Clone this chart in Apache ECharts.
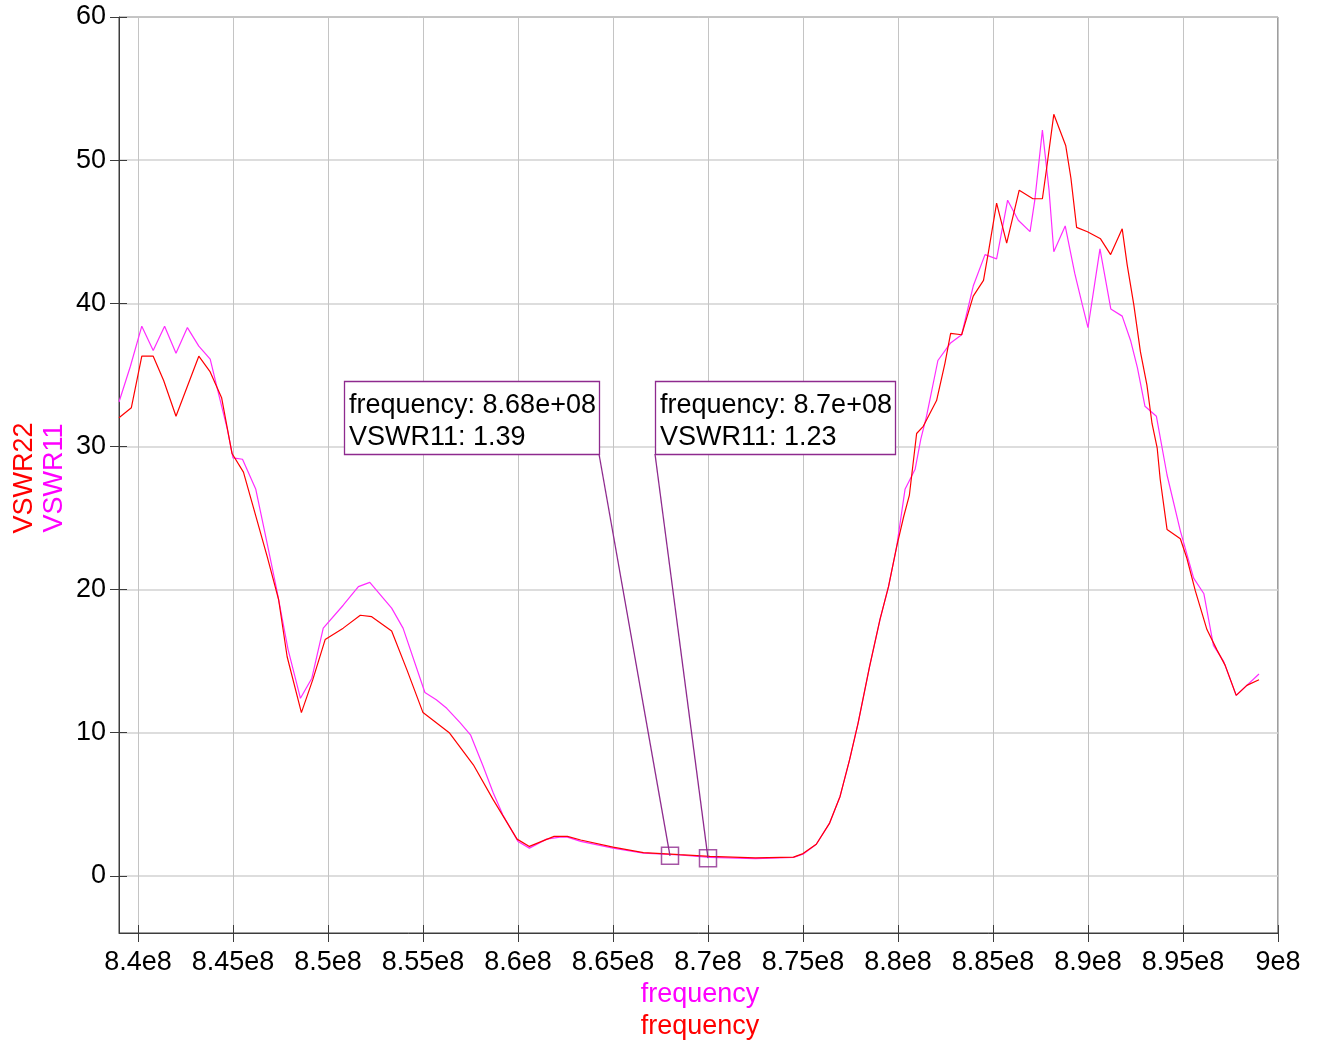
<!DOCTYPE html>
<html><head><meta charset="utf-8">
<script src="https://cdn.jsdelivr.net/npm/echarts@6/dist/echarts.min.js"></script>
<style>html,body{margin:0;padding:0;background:#fff}#c{width:1319px;height:1049px}</style>
</head><body><div id="c"></div>
<script>
// frequency in MHz (axis labels shown as x e8 Hz)
const xTicks = [840, 845, 850, 855, 860, 865, 870, 875, 880, 885, 890, 895, 900];
const yTicks = [0, 10, 20, 30, 40, 50, 60];

const f11 = [839.0, 839.6, 840.2, 840.8, 841.4, 842.0, 842.6, 843.2, 843.8, 844.2, 844.7, 845.0, 845.5, 846.2, 846.8, 847.3, 847.9, 848.55, 849.15, 849.75, 850.8, 851.6, 852.2, 853.35, 853.95, 855.1, 855.7, 856.25, 856.95, 857.5, 858.15, 858.7, 859.2, 859.75, 860.0, 860.6, 861.5, 862.2, 862.6, 863.3, 865.0, 866.6, 868.5, 870.1, 872.5, 874.5, 875.0, 875.7, 876.4, 876.95, 877.45, 877.9, 878.5, 879.05, 879.5, 879.93, 880.37, 880.9, 881.2, 881.5, 882.1, 882.75, 883.35, 883.96, 884.58, 885.19, 885.77, 886.33, 886.95, 887.2, 887.6, 887.95, 888.2, 888.8, 889.3, 889.7, 890.0, 890.63, 891.2, 891.8, 892.24, 892.6, 893.0, 893.6, 894.16, 894.86, 895.56, 896.1, 896.6, 897.13, 897.8, 899.0];
const v11 = [33.1, 35.6, 38.4, 36.7, 38.4, 36.5, 38.3, 37.0, 36.1, 33.9, 31.2, 29.2, 29.1, 27.0, 23.2, 20.0, 15.8, 12.4, 13.8, 17.3, 18.9, 20.2, 20.5, 18.7, 17.3, 12.8, 12.3, 11.7, 10.7, 9.85, 7.7, 5.78, 4.26, 2.98, 2.4, 1.93, 2.56, 2.7, 2.7, 2.4, 1.93, 1.58, 1.45, 1.28, 1.2, 1.28, 1.5, 2.2, 3.68, 5.54, 8.1, 10.67, 14.6, 17.9, 20.2, 23.0, 27.0, 28.4, 30.5, 32.1, 36.0, 37.2, 37.8, 41.2, 43.4, 43.1, 47.2, 45.8, 45.0, 47.2, 52.1, 47.9, 43.6, 45.4, 42.1, 39.9, 38.3, 43.8, 39.6, 39.1, 37.4, 35.5, 32.8, 32.1, 28.0, 24.1, 20.8, 19.7, 16.1, 15.0, 12.6, 14.1];

const f22 = [839.0, 839.65, 840.2, 840.8, 841.35, 842.0, 843.2, 843.8, 844.4, 844.95, 845.55, 846.25, 846.8, 847.4, 847.85, 848.6, 849.2, 849.85, 850.8, 851.7, 852.3, 853.35, 854.15, 855.0, 856.4, 857.65, 858.7, 859.95, 860.6, 861.9, 862.6, 863.3, 865.0, 866.6, 868.5, 870.1, 872.5, 874.5, 875.0, 875.7, 876.4, 876.95, 877.45, 877.9, 878.5, 879.05, 879.5, 879.93, 880.3, 880.6, 880.98, 881.33, 882.03, 882.47, 882.77, 883.35, 883.96, 884.5, 884.75, 885.19, 885.72, 886.38, 887.1, 887.6, 887.83, 888.2, 888.83, 889.1, 889.4, 889.97, 890.66, 891.19, 891.8, 892.06, 892.41, 892.76, 893.1, 893.37, 893.64, 893.8, 894.16, 894.86, 895.2, 895.65, 896.26, 896.78, 897.22, 897.8, 898.36, 899.0];
const v22 = [32.0, 32.7, 36.3, 36.3, 34.6, 32.1, 36.3, 35.2, 33.4, 29.5, 28.2, 24.9, 22.3, 19.3, 15.3, 11.4, 13.7, 16.5, 17.3, 18.2, 18.1, 17.1, 14.4, 11.4, 9.97, 7.75, 5.3, 2.56, 2.05, 2.75, 2.75, 2.5, 2.0, 1.62, 1.47, 1.35, 1.25, 1.3, 1.55, 2.2, 3.68, 5.54, 8.1, 10.67, 14.6, 17.9, 20.2, 23.0, 25.1, 26.6, 30.9, 31.4, 33.2, 35.8, 37.9, 37.8, 40.5, 41.6, 43.5, 47.0, 44.2, 47.9, 47.3, 47.3, 49.5, 53.2, 51.0, 48.75, 45.3, 45.0, 44.5, 43.4, 45.2, 42.7, 39.9, 36.6, 34.3, 31.6, 29.9, 27.7, 24.2, 23.55, 22.2, 19.9, 17.2, 15.8, 14.7, 12.6, 13.3, 13.7];

const markerFreq = [868, 870];
const markerVal = [1.39, 1.23];
const markerLabels = [['frequency: 8.68e+08', 'VSWR11: 1.39'], ['frequency: 8.7e+08', 'VSWR11: 1.23']];

const FONT = '"Liberation Sans", Arial, sans-serif';
const PURPLE = '#8e2a8e';
const AXIS = '#3c3c3c';
const chart = echarts.init(document.getElementById('c'), null, {renderer: 'canvas'});

const zip = (a, b) => a.map((x, i) => [x, b[i]]);

const option = {
  animation: false,
  backgroundColor: '#fff',
  grid: {left: 119, right: 41, top: 17, bottom: 116, show: true, borderColor: AXIS, borderWidth: 1},
  xAxis: [{
    type: 'value', min: 839, max: 900,
    axisLine: {onZero: false, lineStyle: {color: AXIS, width: 1}},
    axisTick: {show: true, length: 9, customValues: xTicks, lineStyle: {color: AXIS}},
    axisLabel: {customValues: xTicks, color: '#000', fontSize: 27, fontFamily: FONT, margin: 16,
      formatter: v => parseFloat((v / 100).toFixed(4)) + 'e8'},
    splitLine: {show: true, customValues: xTicks, lineStyle: {color: '#c4c4c4', width: 1}}
  }, {
    type: 'value', min: 839, max: 900, position: 'bottom',
    axisLine: {show: false, onZero: false},
    axisTick: {show: true, inside: true, length: 8, customValues: xTicks, lineStyle: {color: AXIS}},
    axisLabel: {show: false}, splitLine: {show: false}
  }],
  yAxis: [{
    type: 'value', min: -4, max: 60,
    axisLine: {show: true, onZero: false, lineStyle: {color: AXIS, width: 1}},
    axisTick: {show: true, length: 9, customValues: yTicks, lineStyle: {color: AXIS}},
    axisLabel: {customValues: yTicks, color: '#000', fontSize: 27, fontFamily: FONT, margin: 13, padding: [9, 0, 0, 0]},
    splitLine: {show: true, customValues: yTicks, lineStyle: {color: '#d2d2d2', width: 1.5}}
  }, {
    type: 'value', min: -4, max: 60, position: 'left',
    axisLine: {show: false, onZero: false},
    axisTick: {show: true, inside: true, length: 8, customValues: yTicks, lineStyle: {color: AXIS}},
    axisLabel: {show: false}, splitLine: {show: false}
  }],
  series: [
    {name: 'VSWR11', type: 'line', data: zip(f11, v11), showSymbol: false, symbol: 'none',
      lineStyle: {color: '#ff2cff', width: 1.2}, z: 3},
    {name: 'VSWR22', type: 'line', data: zip(f22, v22), showSymbol: false, symbol: 'none',
      lineStyle: {color: '#ff0000', width: 1.2}, z: 4},
    {name: 'markers', type: 'scatter', data: zip(markerFreq, markerVal), symbol: 'rect', symbolSize: 17,
      itemStyle: {color: 'rgba(0,0,0,0)', borderColor: PURPLE, borderWidth: 1.5}, z: 5, silent: true}
  ]
};
chart.setOption(option);

// annotation boxes (layout positions), connected to markers via axis scales
const boxes = [
  {x: 344, y: 381, w: 255, h: 73, anchorX: 599},
  {x: 655, y: 381, w: 240, h: 73, anchorX: 655}
];
const graphics = [];
boxes.forEach((b, i) => {
  const p = chart.convertToPixel({seriesIndex: 2}, [markerFreq[i], markerVal[i]]);
  graphics.push({type: 'line', shape: {x1: b.anchorX, y1: b.y + b.h, x2: p[0], y2: p[1]},
    style: {stroke: PURPLE, lineWidth: 1.3}, z: 10});
  graphics.push({type: 'rect', shape: {x: b.x + 0.5, y: b.y + 0.5, width: b.w, height: b.h},
    style: {fill: '#fff', stroke: PURPLE, lineWidth: 1.3}, z: 11});
  markerLabels[i].forEach((t, j) => {
    graphics.push({type: 'text', x: b.x + 5, y: b.y + 25 + j * 32,
      style: {text: t, fill: '#000', font: '27px ' + FONT, verticalAlign: 'middle'}, z: 12});
  });
});
// axis titles
graphics.push({type: 'text', x: 25, y: 478, rotation: Math.PI / 2,
  style: {text: 'VSWR22', fill: '#ff0000', font: '27px ' + FONT, align: 'center', verticalAlign: 'middle'}, z: 12});
graphics.push({type: 'text', x: 55, y: 478, rotation: Math.PI / 2,
  style: {text: 'VSWR11', fill: '#ff00ff', font: '27px ' + FONT, align: 'center', verticalAlign: 'middle'}, z: 12});
graphics.push({type: 'text', x: 700, y: 995,
  style: {text: 'frequency', fill: '#ff00ff', font: '27px ' + FONT, align: 'center', verticalAlign: 'middle'}, z: 12});
graphics.push({type: 'text', x: 700, y: 1027,
  style: {text: 'frequency', fill: '#ff0000', font: '27px ' + FONT, align: 'center', verticalAlign: 'middle'}, z: 12});
chart.setOption({graphic: graphics});
</script></body></html>
